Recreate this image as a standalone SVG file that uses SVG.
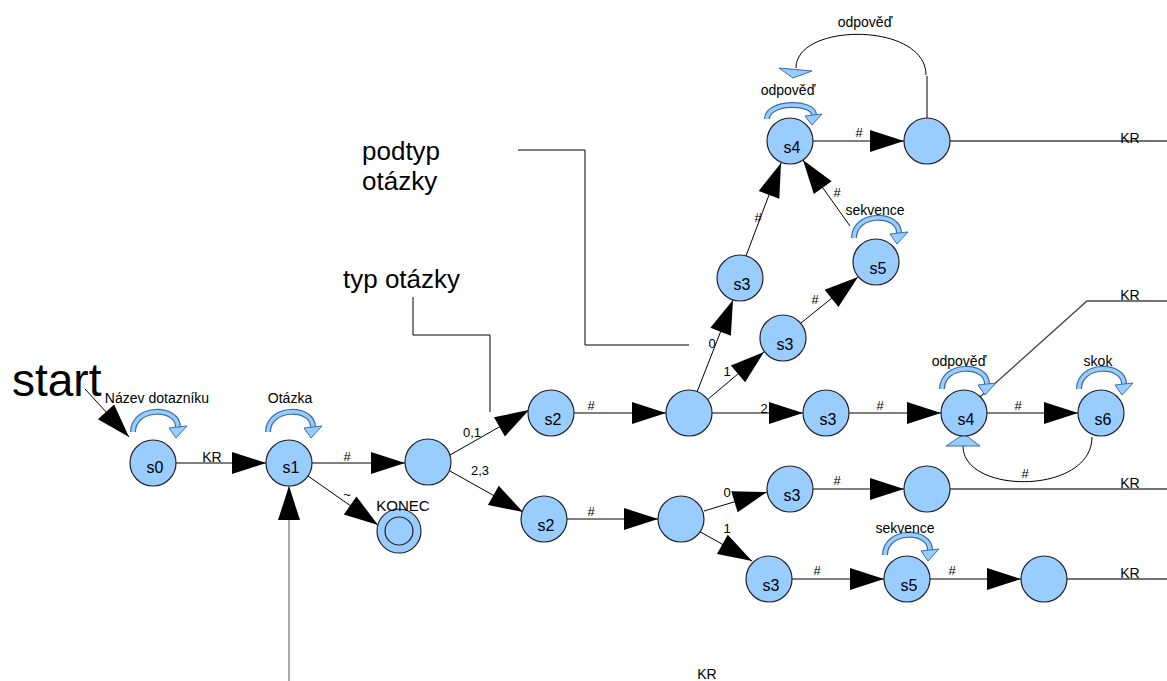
<svg xmlns="http://www.w3.org/2000/svg" xmlns:xlink="http://www.w3.org/1999/xlink" width="1167" height="681" viewBox="0 0 1167 681">
<style>
text{font-family:"Liberation Sans",Arial,sans-serif;fill:#000}
.st{fill:#99ccff;stroke:#222;stroke-width:1.2}
.sl{font-size:16px;text-anchor:middle}
.el{font-size:13px;text-anchor:middle}
.ll{font-size:14px;text-anchor:middle}
.big{font-size:26px}
.e{stroke:#000;stroke-width:1;fill:none;marker-end:url(#ah)}
.p{stroke:#000;stroke-width:1;fill:none}
.kr{stroke:#444;stroke-width:1.3;fill:none}
.lo{stroke:#3a6ea5;stroke-width:6;fill:none}
.li{stroke:#99ccff;stroke-width:3.6;fill:none}
.lh{fill:#99ccff;stroke:#3a6ea5;stroke-width:1}
</style>
<defs>
<marker id="ah" markerUnits="userSpaceOnUse" markerWidth="34" markerHeight="22" refX="34" refY="11" orient="auto" overflow="visible">
<path d="M0,0 L34,11 L0,22 Z" fill="#000"/>
</marker>
<g id="loop">
<path class="lo" d="M-22,-24 C-22,-50 23,-50 23,-29"/>
<path class="li" d="M-22,-24 C-22,-50 23,-50 23,-29"/>
<polygon class="lh" points="14,-28 32,-30 21,-18"/>
</g>
<g id="loopflat">
<path class="lo" d="M-23,-22 C-23,-40 24,-40 24,-26"/>
<path class="li" d="M-23,-22 C-23,-40 24,-40 24,-26"/>
<polygon class="lh" points="15,-25 32,-27 22,-16"/>
</g>
</defs>

<text x="12" y="396" style="font-size:46px">start</text>
<text x="362" y="160" class="big">podtyp</text>
<text x="362" y="190" class="big">otázky</text>
<text x="343" y="288" class="big">typ otázky</text>
<text x="707" y="679" class="ll">KR</text>

<g id="connectors">
<line class="e" x1="85" y1="389" x2="129" y2="437"/>
<line class="e" x1="176" y1="463" x2="266" y2="463"/>
<line class="e" x1="312" y1="463" x2="405" y2="463"/>
<line class="e" x1="308" y1="476" x2="378" y2="525"/>
<line class="e" x1="450" y1="455" x2="529" y2="410"/>
<line class="e" x1="450" y1="471" x2="523" y2="512"/>
<line class="e" x1="574" y1="413" x2="666" y2="413"/>
<line class="e" x1="567" y1="519" x2="658" y2="519"/>
<line class="e" x1="697" y1="392" x2="733" y2="300"/>
<line class="e" x1="707" y1="400" x2="764" y2="352"/>
<line class="e" x1="712" y1="413" x2="803" y2="413"/>
<line class="e" x1="746" y1="256" x2="781" y2="163"/>
<line class="e" x1="850" y1="226" x2="803" y2="160"/>
<line class="e" x1="801" y1="323" x2="858" y2="277"/>
<line class="e" x1="813" y1="141" x2="904" y2="141"/>
<line class="e" x1="849" y1="413" x2="941" y2="413"/>
<line class="e" x1="987" y1="413" x2="1078" y2="413"/>
<line class="e" x1="704" y1="511" x2="767" y2="492"/>
<line class="e" x1="697" y1="530" x2="752" y2="561"/>
<line class="e" x1="813" y1="489" x2="904" y2="489"/>
<line class="e" x1="792" y1="579" x2="884" y2="579"/>
<line class="e" x1="930" y1="579" x2="1021" y2="579"/>
<line class="e" x1="289" y1="681" x2="289" y2="486" style="stroke:#555"/>
<polyline class="p" points="413,297 413,335 490,335 490,412"/>
<polyline class="p" points="518,150 585,150 585,345 689,345"/>
<line class="kr" x1="950" y1="141" x2="1167" y2="141"/>
<polyline class="kr" points="980,397 1087,301 1167,301"/>
<line class="kr" x1="950" y1="489" x2="1167" y2="489"/>
<line class="kr" x1="1067" y1="579" x2="1167" y2="579"/>
<line class="p" x1="927" y1="118" x2="927" y2="76"/>
<path class="p" d="M926,75 C926,22 796,22 796,68"/>
<polygon class="lh" points="779,68 812,71 793,78"/>
<path class="p" d="M1092,437 C1092,495 963,495 963,446"/>
<polygon class="lh" points="946,446 980,446 964,434"/>

<text x="212" y="462" class="ll">KR</text>
<text x="347" y="461" class="el">#</text>
<text x="347" y="499" class="el">~</text>
<text x="472" y="437" class="el">0,1</text>
<text x="480" y="475" class="el">2,3</text>
<text x="591" y="410" class="el">#</text>
<text x="591" y="516" class="el">#</text>
<text x="712" y="348" class="el">0</text>
<text x="727" y="376" class="el">1</text>
<text x="764" y="413" class="el">2</text>
<text x="758" y="222" class="el">#</text>
<text x="837" y="197" class="el">#</text>
<text x="815" y="304" class="el">#</text>
<text x="859" y="137" class="el">#</text>
<text x="880" y="410" class="el">#</text>
<text x="1018" y="410" class="el">#</text>
<text x="1025" y="478" class="el">#</text>
<text x="837" y="485" class="el">#</text>
<text x="727" y="497" class="el">0</text>
<text x="727" y="533" class="el">1</text>
<text x="817" y="575" class="el">#</text>
<text x="952" y="575" class="el">#</text>
<text x="1130" y="143" class="ll">KR</text>
<text x="1130" y="300" class="ll">KR</text>
<text x="1130" y="488" class="ll">KR</text>
<text x="1130" y="578" class="ll">KR</text>
<text x="865" y="27" class="ll">odpověď</text>
</g>

<g id="s0"><circle class="st" cx="153" cy="463" r="23"/><text x="155" y="473" class="sl">s0</text><use xlink:href="#loop" transform="translate(155,456)"/><text x="157" y="403" class="ll">Název dotazníku</text></g>
<g id="s1"><circle class="st" cx="289" cy="463" r="23"/><text x="291" y="473" class="sl">s1</text><use xlink:href="#loop" transform="translate(290,456)"/><text x="290" y="403" class="ll">Otázka</text></g>
<g id="n1"><circle class="st" cx="428" cy="462" r="23"/></g>
<g id="konec"><circle class="st" cx="399" cy="531" r="22"/><circle class="st" cx="399" cy="531" r="14"/><text x="403" y="511" style="font-size:15px;text-anchor:middle">KONEC</text></g>
<g id="s2a"><circle class="st" cx="551" cy="413" r="23"/><text x="553" y="425" class="sl">s2</text></g>
<g id="s2b"><circle class="st" cx="544" cy="519" r="23"/><text x="546" y="531" class="sl">s2</text></g>
<g id="n2"><circle class="st" cx="689" cy="413" r="23"/></g>
<g id="n3"><circle class="st" cx="681" cy="519" r="23"/></g>
<g id="s3a"><circle class="st" cx="740" cy="278" r="23"/><text x="742" y="290" class="sl">s3</text></g>
<g id="s3b"><circle class="st" cx="783" cy="338" r="23"/><text x="785" y="350" class="sl">s3</text></g>
<g id="s5a"><circle class="st" cx="876" cy="262" r="23"/><text x="878" y="274" class="sl">s5</text><use xlink:href="#loop" transform="translate(876,262)"/><text x="875" y="215" class="ll">sekvence</text></g>
<g id="s4a"><circle class="st" cx="790" cy="141" r="23"/><text x="792" y="153" class="sl">s4</text><use xlink:href="#loopflat" transform="translate(790,141)"/><text x="788" y="95" class="ll">odpověď</text></g>
<g id="n4"><circle class="st" cx="927" cy="141" r="23"/></g>
<g id="s3c"><circle class="st" cx="826" cy="413" r="23"/><text x="828" y="425" class="sl">s3</text></g>
<g id="s4b"><circle class="st" cx="964" cy="413" r="23"/><text x="966" y="425" class="sl">s4</text><use xlink:href="#loop" transform="translate(964,413)"/><text x="959" y="366" class="ll">odpověď</text></g>
<g id="s6"><circle class="st" cx="1101" cy="413" r="23"/><text x="1103" y="425" class="sl">s6</text><use xlink:href="#loop" transform="translate(1101,413)"/><text x="1098" y="366" class="ll">skok</text></g>
<g id="s3d"><circle class="st" cx="790" cy="489" r="23"/><text x="792" y="501" class="sl">s3</text></g>
<g id="n5"><circle class="st" cx="927" cy="489" r="23"/></g>
<g id="s3e"><circle class="st" cx="769" cy="579" r="23"/><text x="771" y="591" class="sl">s3</text></g>
<g id="s5b"><circle class="st" cx="907" cy="579" r="23"/><text x="909" y="591" class="sl">s5</text><use xlink:href="#loop" transform="translate(907,579)"/><text x="905" y="533" class="ll">sekvence</text></g>
<g id="n6"><circle class="st" cx="1044" cy="579" r="23"/></g>
</svg>
